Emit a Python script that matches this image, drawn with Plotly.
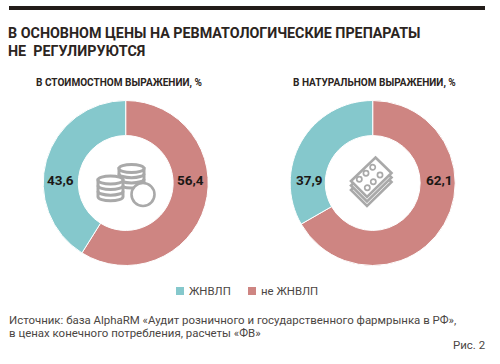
import plotly.graph_objects as go

labels = ["ЖНВЛП", "не ЖНВЛП"]
# Figures printed on the chart
value_share = [43.6, 56.4]
volume_share = [37.9, 62.1]
# Slice sizes measured from the drawn arcs: the reference's arcs do not follow its printed figures
value_arc = [41.1, 58.9]
volume_arc = [33.3, 66.7]
colors = ["#85c8cc", "#ce8582"]
title_lines = ["В ОСНОВНОМ ЦЕНЫ НА РЕВМАТОЛОГИЧЕСКИЕ ПРЕПАРАТЫ", "НЕ  РЕГУЛИРУЮТСЯ"]
sub_left = "В СТОИМОСТНОМ ВЫРАЖЕНИИ, %"
sub_right = "В НАТУРАЛЬНОМ ВЫРАЖЕНИИ, %"
source_lines = ["Источник: база AlphaRM «Аудит розничного и государственного фармрынка в РФ»,",
                "в ценах конечного потребления, расчеты «ФВ»"]
fig_label = "Рис. 2"

W, H = 500, 364
BODY = "Roboto"
DARK = "#2b2421"
GREY = "#a9a9a9"


def fmt(v):
    return f"{v:.1f}".replace(".", ",")


def dom(cx, cy, r):
    return dict(x=[(cx - r) / W, (cx + r) / W], y=[1 - (cy + r) / H, 1 - (cy - r) / H])


fig = go.Figure()
for vals, cx in [(value_arc, 125.7), (volume_arc, 372.7)]:
    # The larger slice starts at 12 o'clock and runs clockwise, so slices are passed in reverse order.
    fig.add_trace(go.Pie(labels=labels[::-1], values=vals[::-1], hole=0.575, sort=False, direction="clockwise",
                         rotation=0, marker=dict(colors=colors[::-1], line=dict(color="#ffffff", width=1)),
                         textinfo="none", hoverinfo="label", showlegend=False,
                         domain=dom(cx, 183, 82.5)))

ann = []


def text(x, y, s, size, color=DARK, font=BODY, bold=False, anchor="left"):
    ann.append(dict(xref="x", yref="y", x=x, y=y, text=f"<b>{s}</b>" if bold else s, showarrow=False,
                    xanchor=anchor, yanchor="middle", xshift=0, font=dict(family=font, size=size, color=color),
                    borderpad=0, borderwidth=0))


text(8, 33, title_lines[0], 14.3, bold=True)
text(8, 51, title_lines[1], 14.3, bold=True)
text(35.5, 83, sub_left, 10.05, bold=True)
text(293, 83, sub_right, 10.05, bold=True)
text(60, 180, fmt(value_share[0]), 13.5, color="#1c1816", bold=True, anchor="center")
text(190.5, 180, fmt(value_share[1]), 13.5, color="#1c1816", bold=True, anchor="center")
text(309, 179.5, fmt(volume_share[0]), 13.5, color="#1c1816", bold=True, anchor="center")
text(439, 179.5, fmt(volume_share[1]), 13.5, color="#1c1816", bold=True, anchor="center")
text(9, 319.5, source_lines[0], 11.45, color="#4b4643")
text(9, 332.5, source_lines[1], 11.45, color="#4b4643")
text(485, 345, fig_label, 11.45, color="#4b4643", anchor="right")
text(189, 291, labels[0], 11.4, color="#4b4643")
text(261, 291, labels[1], 11.4, color="#4b4643")

shapes = []


def add(kind, **kw):
    s = dict(type=kind, xref="x", yref="y", layer="above")
    s.update(kw)
    shapes.append(s)


add("rect", x0=9, x1=485, y0=6, y1=10, fillcolor="#231c19", line=dict(width=0))
add("rect", x0=176, x1=184, y0=287, y1=295, fillcolor=colors[0], line=dict(width=0))
add("rect", x0=248, x1=256, y0=287, y1=295, fillcolor=colors[1], line=dict(width=0))


def arc(cx, y, rx, ry):
    k = 0.5523
    return (f"C{cx-rx},{y+k*ry} {cx-k*rx},{y+ry} {cx},{y+ry} "
            f"C{cx+k*rx},{y+ry} {cx+rx},{y+k*ry} {cx+rx},{y}")


def stack(cx, top, rx, ry, n, step):
    ln = dict(color=GREY, width=3)
    bottom = top + step * n
    add("path", path=f"M{cx-rx},{top} L{cx-rx},{bottom} {arc(cx, bottom, rx, ry)} L{cx+rx},{top} Z",
        line=ln, fillcolor="#ffffff")
    add("circle", x0=cx - rx, x1=cx + rx, y0=top - ry, y1=top + ry, line=ln, fillcolor="#ffffff")
    for i in range(1, n):
        y = top + step * i
        add("path", path=f"M{cx-rx},{y} {arc(cx, y, rx, ry)}", line=ln)


stack(131.5, 168.5, 12.5, 4, 3, 5.2)
stack(110.5, 180, 12.5, 4, 3, 5.6)
add("circle", x0=131.5, x1=154.5, y0=183, y1=206, line=dict(color=GREY, width=2.6), fillcolor="#ffffff")


def blister(dy):
    pts = [(375.5, 157.5 + dy), (391.5, 173 + dy), (367, 197 + dy), (351, 181 + dy)]
    d = "M" + " L".join(f"{x},{y}" for x, y in pts) + " Z"
    add("path", path=d, line=dict(color=GREY, width=2.6), fillcolor="#ffffff")


for off in (9, 4.5, 0):
    blister(off)
for px, py in [(372.7, 167.3), (380, 175), (366, 173.3), (373.3, 181.7), (359.3, 179.3), (367.3, 187.7)]:
    add("circle", x0=px - 2.6, x1=px + 2.6, y0=py - 2.6, y1=py + 2.6, line=dict(color=GREY, width=1.7),
        fillcolor="#ffffff")

fig.update_layout(
    width=W, height=H, margin=dict(l=0, r=0, t=0, b=0), autosize=False,
    paper_bgcolor="#ffffff", plot_bgcolor="rgba(0,0,0,0)", showlegend=False,
    xaxis=dict(range=[0, W], visible=False, fixedrange=True, domain=[0, 1]),
    yaxis=dict(range=[H, 0], visible=False, fixedrange=True, domain=[0, 1]),
    annotations=ann, shapes=shapes,
)
fig.add_trace(go.Scatter(x=[], y=[], showlegend=False, hoverinfo="skip"))
fig.write_html("out.html", config=dict(displayModeBar=False),
               post_script="document.body.style.margin='0';document.documentElement.style.overflow='hidden';")
